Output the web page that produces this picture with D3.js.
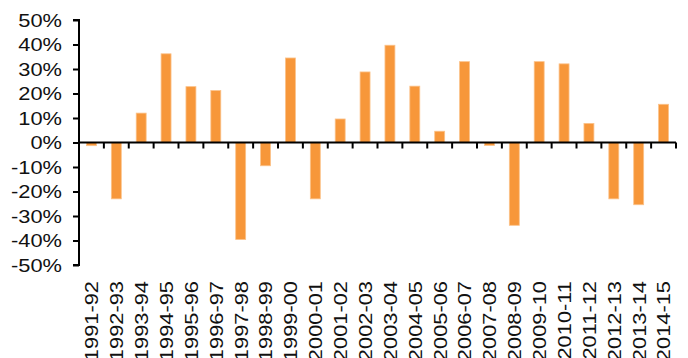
<!DOCTYPE html>
<html><head><meta charset="utf-8">
<script src="https://cdn.jsdelivr.net/npm/d3@7/dist/d3.min.js"></script>
<style>html,body{margin:0;padding:0;background:#fff;}svg{display:block;}</style>
</head><body>
<svg id="c" width="688" height="358"></svg>
<script>
const categories = ["1991-92","1992-93","1993-94","1994-95","1995-96","1996-97","1997-98","1998-99","1999-00","2000-01","2001-02","2002-03","2003-04","2004-05","2005-06","2006-07","2007-08","2008-09","2009-10","2010-11","2011-12","2012-13","2013-14","2014-15"];
const values = [-1.3,-23,12,36.2,22.8,21.2,-39.6,-9.5,34.5,-23,9.6,28.8,39.7,23,4.6,33,-1.2,-33.8,33,32.1,7.8,-23,-25.4,15.6];
const yTicks = [50,40,30,20,10,0,-10,-20,-30,-40,-50];

(function(){
const svg = d3.select("#c");
const mLeft = 79, mRight = 676, mTop = 20, mBottom = 265;
const x = d3.scaleBand().domain(categories).range([mLeft, mRight]).padding(0);
const y = d3.scaleLinear().domain([-50, 50]).range([mBottom, mTop]);
const font = "'Liberation Sans', Arial, Helvetica, sans-serif";
const stretch = 1.15;

// bars
const bw = x.bandwidth() * 0.4;
svg.append("g").selectAll("rect").data(values).join("rect")
  .attr("x", (d, i) => x(categories[i]) + (x.bandwidth() - bw) / 2)
  .attr("y", d => y(Math.max(0, d)))
  .attr("width", bw)
  .attr("height", d => Math.abs(y(d) - y(0)))
  .attr("fill", "#f7973a")
  .attr("stroke", "#fbc28a")
  .attr("stroke-width", 0.8);

// y axis
const yAxis = d3.axisLeft(y).tickValues(yTicks).tickFormat(d => d + "%").tickSize(6);
const gy = svg.append("g").attr("transform", `translate(${mLeft},0)`).call(yAxis);
gy.select(".domain").attr("stroke", "#000").attr("stroke-width", 2).attr("d", `M-6,${mTop}H0V${mBottom}H-6`);
gy.selectAll(".tick line").attr("stroke", "#000").attr("stroke-width", 2);
gy.selectAll(".tick text").attr("x", 0).attr("fill", "#111")
  .attr("transform", `translate(-17,0) scale(${stretch},1)`)
  .style("font-family", font).style("font-size", "19px");

// x axis at zero
const xAxis = d3.axisBottom(x).tickSize(0).tickFormat("");
const gx = svg.append("g").attr("transform", `translate(0,${y(0)})`).call(xAxis);
gx.select(".domain").attr("stroke", "#000").attr("stroke-width", 2).attr("d", `M${mLeft},0H${mRight}`);
const bounds = categories.map(c => x(c) + x.bandwidth());
gx.selectAll("line.bt").data(bounds).join("line").attr("class", "bt")
  .attr("x1", d => d).attr("x2", d => d).attr("y1", 0).attr("y2", 6)
  .attr("stroke", "#000").attr("stroke-width", 2);

// category labels (rotated)
svg.append("g").selectAll("text").data(categories).join("text")
  .attr("transform", d => `translate(${x(d) + x.bandwidth() / 2},281) rotate(-90) scale(${stretch},1)`)
  .attr("dy", "0.36em")
  .attr("text-anchor", "end")
  .attr("fill", "#111")
  .style("font-family", font).style("font-size", "19px")
  .text(d => d);
})();
</script>
</body></html>
